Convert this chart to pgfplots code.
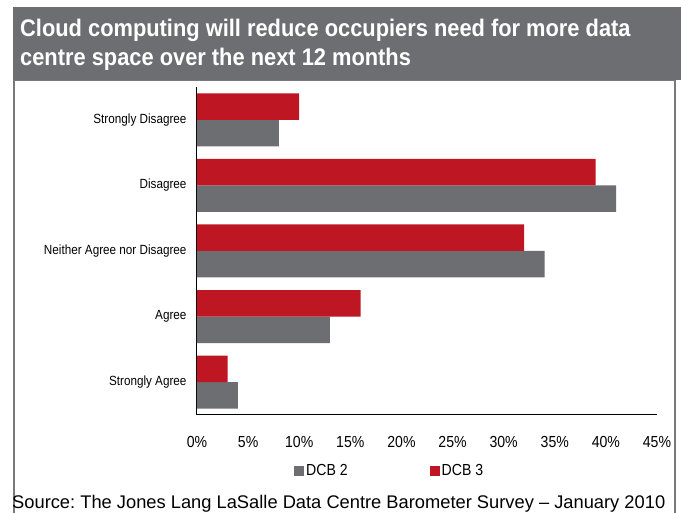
\documentclass[border=0pt]{standalone}
\usepackage{fontspec}
\setmainfont{Liberation Sans}
\newfontfamily\narrowfont{Liberation Sans}[FakeStretch=0.88]
\newfontfamily\titlefont{Liberation Sans}[FakeStretch=0.91]
\usepackage{pgfplots}
\pgfplotsset{compat=1.18}
\definecolor{cgray}{RGB}{109,110,113}
\definecolor{cred}{RGB}{190,22,34}
\definecolor{framegray}{RGB}{120,121,124}
\frenchspacing
\begin{document}
\begin{tikzpicture}[x=1pt,y=1pt]
\useasboundingbox (0,0) rectangle (681,513);
\fill[white] (0,0) rectangle (681,513);
\begin{scope}
\clip (0,0) rectangle (681,513);
\draw[framegray, line width=2pt] (14,-10) rectangle (675,433);
\end{scope}
\fill[cgray] (13,433) rectangle (681,506);
\node[anchor=base west, text=white, inner sep=0pt,
      font=\titlefont\bfseries\fontsize{24}{29}\selectfont] at (20,476)
  {Cloud computing will reduce occupiers need for more data};
\node[anchor=base west, text=white, inner sep=0pt,
      font=\titlefont\bfseries\fontsize{24}{29}\selectfont] at (20,447)
  {centre space over the next 12 months};
\node[anchor=base west, inner sep=0pt, font=\fontsize{18.3}{22}\selectfont] at (12,4.5)
  {Source: The Jones Lang LaSalle Data Centre Barometer Survey -- January 2010};

\begin{axis}[
  at={(197pt,98pt)}, anchor=south west,
  scale only axis, width=460pt, height=328pt,
  xbar, bar width=26.5pt,
  xmin=0, xmax=45, ymin=-0.5, ymax=4.5,
  ytick={0,1,2,3,4},
  yticklabels={Strongly Agree, Agree, Neither Agree nor Disagree, Disagree, Strongly Disagree},
  xtick={0,5,...,45},
  xticklabel={\pgfmathprintnumber{\tick}\%},
  /pgf/number format/assume math mode=true,
  axis x line*=bottom, axis y line*=left,
  axis line style={black, line width=1pt},
  major tick length=0pt,
  xticklabel style={anchor=base, yshift=-33pt, font=\narrowfont\fontsize{16}{16}\selectfont},
  yticklabel style={anchor=east, xshift=-7pt, font=\narrowfont\fontsize{13.3}{13.3}\selectfont},
  legend columns=2,
  legend style={at={(0.2109,-0.1707)}, anchor=west, draw=none, fill=none, inner sep=0pt,
    font=\narrowfont\fontsize{16}{16}\selectfont,
    /tikz/every even column/.append style={column sep=80pt}},
  legend image code/.code={\fill[#1] (0pt,-5pt) rectangle (10pt,5pt);},
]
\addplot[fill=cgray, draw=none, bar shift=-13.25pt] coordinates {(4,0) (13,1) (34,2) (41,3) (8,4)};
\addlegendentry{DCB 2}
\addplot[fill=cred, draw=none, bar shift=13.25pt] coordinates {(3,0) (16,1) (32,2) (39,3) (10,4)};
\addlegendentry{DCB 3}
\end{axis}
\end{tikzpicture}
\end{document}
